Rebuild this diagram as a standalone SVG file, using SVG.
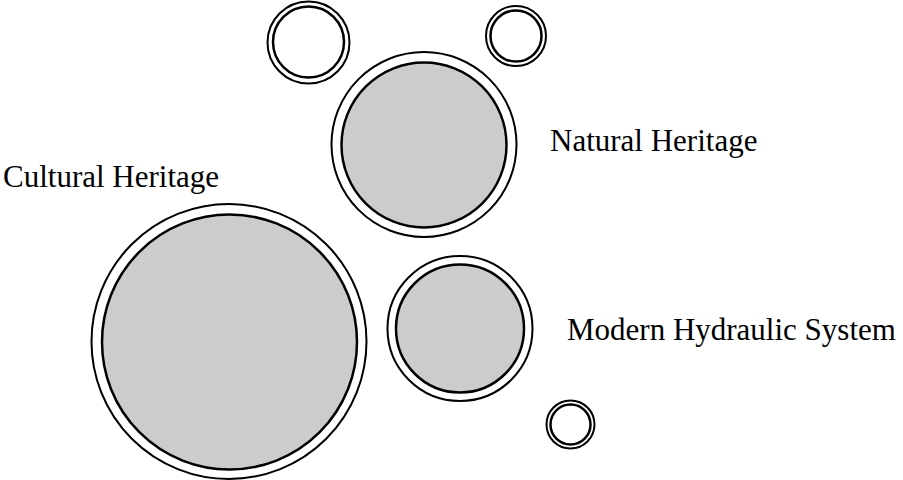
<svg xmlns="http://www.w3.org/2000/svg" width="903" height="480" viewBox="0 0 903 480">
<style>
.ring{fill:#ffffff;stroke:#000;stroke-width:2}
.core{fill:#cccccc;stroke:#000;stroke-width:2.5}
.hollow{fill:#ffffff;stroke:#000;stroke-width:2.5}
.lbl{font-family:"Liberation Serif","Times New Roman",serif;font-size:31px;fill:#000}
</style>
<rect width="903" height="480" fill="#ffffff"/>
<g id="cultural">
<circle class="ring" cx="229" cy="341.5" r="137.5"/>
<circle class="core" cx="229.5" cy="342" r="127.5"/>
<text class="lbl" x="3" y="187">Cultural Heritage</text>
</g>
<g id="natural">
<circle class="ring" cx="424" cy="144.5" r="92.5"/>
<circle class="core" cx="424" cy="145" r="82.5"/>
<text class="lbl" x="550" y="151">Natural Heritage</text>
</g>
<g id="modern">
<circle class="ring" cx="460" cy="328.5" r="72.5"/>
<circle class="core" cx="460" cy="328.5" r="64"/>
<text class="lbl" x="567" y="340">Modern Hydraulic System</text>
</g>
<g id="small-top-left">
<circle class="ring" cx="308.5" cy="42.5" r="41"/>
<circle class="hollow" cx="308.5" cy="42" r="35.5"/>
</g>
<g id="small-top-right">
<circle class="ring" cx="516" cy="36" r="30" stroke-width="2.5"/>
<circle class="hollow" cx="516" cy="36" r="25.5"/>
</g>
<g id="small-bottom">
<circle class="ring" cx="570.5" cy="424.5" r="24" stroke-width="2.5"/>
<circle class="hollow" cx="570.5" cy="424.5" r="20"/>
</g>
<g id="connectors"/>
</svg>
